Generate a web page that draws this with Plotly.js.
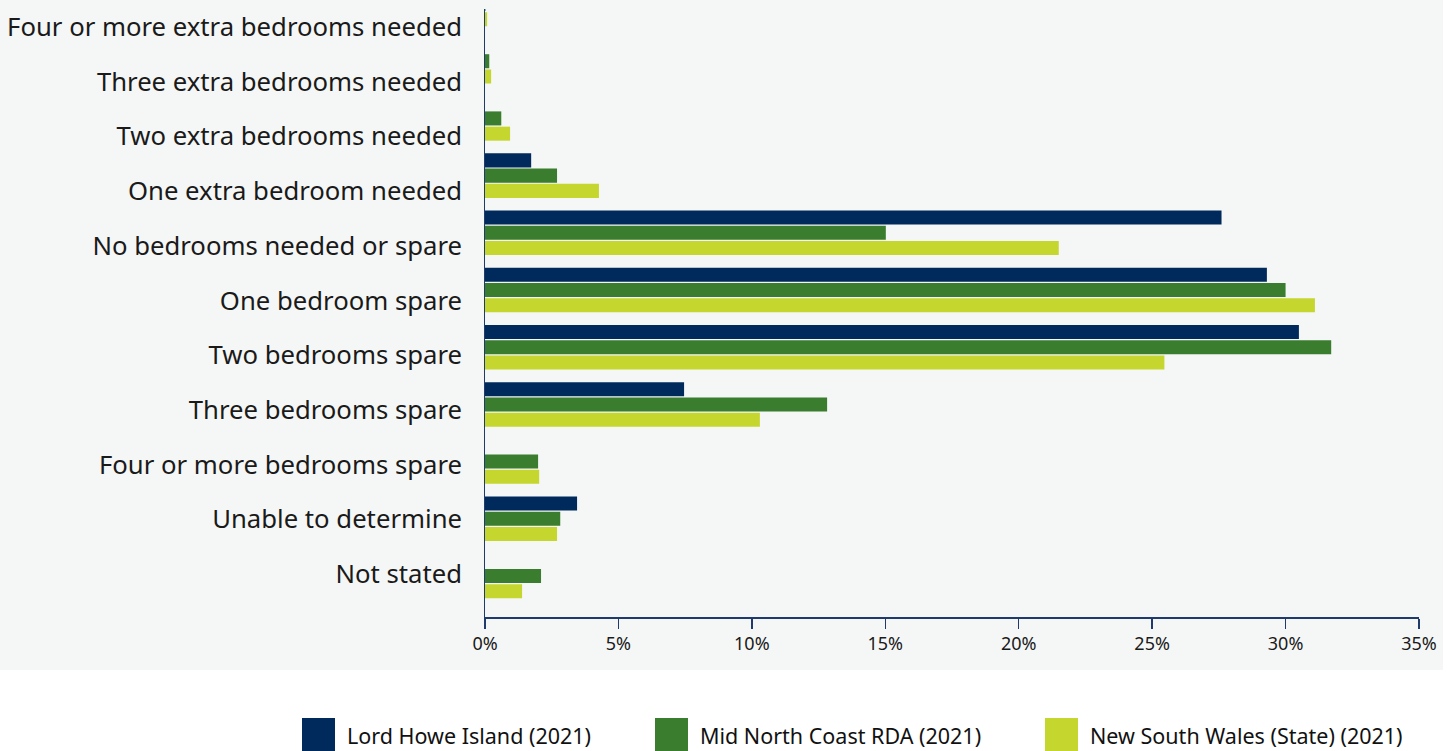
<!DOCTYPE html>
<html>
<head>
<meta charset="utf-8">
<script src="https://cdn.plot.ly/plotly-3.0.1.min.js"></script>
<style>html,body{margin:0;padding:0;background:#fff;}#chart{width:1455px;height:751px;}</style>
</head>
<body>
<div id="chart"></div>
<script>
var categories = [
  "Four or more extra bedrooms needed",
  "Three extra bedrooms needed",
  "Two extra bedrooms needed",
  "One extra bedroom needed",
  "No bedrooms needed or spare",
  "One bedroom spare",
  "Two bedrooms spare",
  "Three bedrooms spare",
  "Four or more bedrooms spare",
  "Unable to determine",
  "Not stated"
];
var seriesNames = ["Lord Howe Island (2021)", "Mid North Coast RDA (2021)", "New South Wales (State) (2021)"];
var lordHowe = [0, 0, 0, 1.73, 27.6, 29.3, 30.5, 7.46, 0, 3.45, 0];
var midNorthCoast = [0.02, 0.16, 0.61, 2.7, 15.02, 30.0, 31.71, 12.82, 1.99, 2.82, 2.1];
var nsw = [0.08, 0.23, 0.94, 4.27, 21.5, 31.1, 25.46, 10.3, 2.03, 2.7, 1.39];
var xTicks = [0, 5, 10, 15, 20, 25, 30, 35];

var colors = ["#002a5c", "#3a7d2e", "#c5d62e"];
var FONT = "Noto Sans, Lato, sans-serif";

var W = 1455, H = 751;
var L = 485, R = 36, T = 9, B = 134;
var pw = W - L - R, ph = H - T - B;
function px2x(p) { return (p - L) / pw; }
function px2y(p) { return (H - B - p) / ph; }

var values = [lordHowe, midNorthCoast, nsw];
var traces = values.map(function (v, i) {
  return {
    type: "bar", orientation: "h", name: seriesNames[i],
    x: v, y: categories, xaxis: "x", yaxis: "y",
    marker: {color: colors[i]}, hoverinfo: "x+y", showlegend: false
  };
});
// invisible trace carrying the category labels on the label axis
traces.push({
  type: "scatter", mode: "markers", x: categories.map(function () { return 0; }),
  y: categories, xaxis: "x", yaxis: "y2",
  marker: {opacity: 0, size: 1}, hoverinfo: "skip", showlegend: false
});

var shapes = [{
  type: "rect", xref: "paper", yref: "paper", layer: "below",
  x0: px2x(0), x1: px2x(1443), y0: px2y(670), y1: px2y(0),
  fillcolor: "#f5f7f6", line: {width: 0}
}];
var annotations = [];
var swX = [302, 655, 1045];
for (var i = 0; i < 3; i++) {
  shapes.push({
    type: "rect", xref: "paper", yref: "paper",
    x0: px2x(swX[i]), x1: px2x(swX[i] + 33), y0: px2y(751), y1: px2y(718),
    fillcolor: colors[i], line: {width: 0}
  });
  annotations.push({
    xref: "paper", yref: "paper", x: px2x(swX[i] + 43), y: px2y(735),
    xanchor: "left", yanchor: "middle", showarrow: false, text: seriesNames[i],
    font: {family: FONT, size: 21.5, color: "#111111"}
  });
}

var layout = {
  width: W, height: H,
  margin: {l: L, r: R, t: T, b: B, pad: 0},
  paper_bgcolor: "#ffffff", plot_bgcolor: "rgba(0,0,0,0)",
  barmode: "group", bargap: 0.2, bargroupgap: 0.08,
  font: {family: FONT, color: "#1a1a1a"},
  xaxis: {
    range: [0, 35], tickvals: xTicks, ticktext: xTicks.map(function (t) { return t + "%"; }),
    ticks: "outside", ticklen: 10, tickwidth: 1.5, tickcolor: "#1f3a6b",
    showline: true, linecolor: "#1f3a6b", linewidth: 1.5,
    showgrid: false, zeroline: false, fixedrange: true,
    tickfont: {family: FONT, size: 18, color: "#1a1a1a"}
  },
  yaxis: {
    type: "category", categoryarray: categories, categoryorder: "array",
    range: [10.717, 0.087], showticklabels: false, ticks: "",
    showline: true, linecolor: "#1f3a6b", linewidth: 1.5,
    showgrid: false, zeroline: false, fixedrange: true
  },
  yaxis2: {
    type: "category", categoryarray: categories, categoryorder: "array",
    overlaying: "y", side: "left",
    range: [10.786, -0.329], ticks: "", showline: false,
    showgrid: false, zeroline: false, fixedrange: true,
    ticklabelstandoff: 22,
    tickfont: {family: FONT, size: 25.7, color: "#1a1a1a"}
  },
  shapes: shapes, annotations: annotations
};

Plotly.newPlot("chart", traces, layout, {displayModeBar: false, staticPlot: true});
</script>
</body>
</html>
